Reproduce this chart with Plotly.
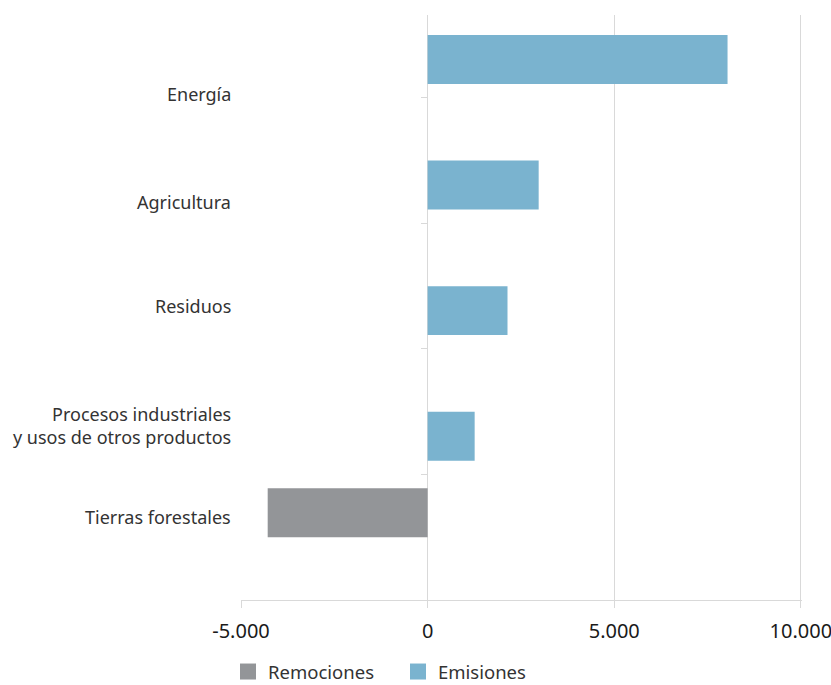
import plotly.graph_objects as go

# Emisiones y remociones por sector (Gg CO2 eq)
sectores = ["Energía", "Agricultura", "Residuos",
            "Procesos industriales<br>y usos de otros productos",
            "Tierras forestales"]
remociones = [None, None, None, None, -4285]
emisiones = [8035, 2975, 2140, 1260, 0]

# vertical placement of each sector label (category units)
label_pos = [0.47, 1.33, 2.16, 3.11, 3.84]

x_ticks = [-5000, 0, 5000, 10000]
x_ticktext = ["-5.000", "0", "5.000", "10.000"]
x_range = [-5000, 10030]

color_rem = "#939598"
color_emi = "#7ab3cf"
font = "Noto Sans"

fig = go.Figure()
fig.add_trace(go.Bar(
    y=sectores, x=remociones, orientation="h", name="Remociones",
    marker=dict(color=color_rem, line=dict(width=0)), showlegend=False,
))
fig.add_trace(go.Bar(
    y=sectores, x=emisiones, orientation="h", name="Emisiones",
    marker=dict(color=color_emi, line=dict(width=0)), showlegend=False,
))

# legend entries with large square swatches
for name, col in [("Remociones", color_rem), ("Emisiones", color_emi)]:
    fig.add_trace(go.Scatter(
        x=[None], y=[None], mode="markers", name=name,
        marker=dict(symbol="square", size=18, color=col),
    ))

for s, p in zip(sectores, label_pos):
    fig.add_annotation(
        x=0, xref="paper", y=p, yref="y", text=s, showarrow=False,
        xanchor="right", yanchor="middle", xshift=-8, align="right",
        font=dict(family=font, size=18, color="#333333"),
    )

fig.update_layout(
    width=831, height=685,
    margin=dict(l=241, r=29, t=15, b=85, autoexpand=False),
    plot_bgcolor="white", paper_bgcolor="white",
    barmode="group", bargap=0.22, bargroupgap=0,
    showlegend=True,
    legend=dict(orientation="h", x=-13 / 561, xanchor="left", xref="paper",
                y=(685 - 672) / 685, yref="container", yanchor="middle",
                font=dict(family=font, size=18.5, color="#333333"),
                itemwidth=30, entrywidth=125, traceorder="normal"),
    xaxis=dict(
        range=x_range, tickvals=x_ticks, ticktext=x_ticktext,
        showgrid=True, gridcolor="#d9d9d9", gridwidth=1,
        zeroline=True, zerolinecolor="#d9d9d9", zerolinewidth=1,
        showline=True, linecolor="#d9d9d9", linewidth=1,
        ticks="outside", ticklen=7, tickcolor="#d9d9d9",
        ticklabelstandoff=6, ticklabeloverflow="allow",
        tickfont=dict(family=font, size=20, color="#1a1a1a"),
        automargin=False, fixedrange=True,
    ),
    yaxis=dict(
        type="category", range=[4.5, -0.16],
        anchor="free", position=(0 - x_range[0]) / (x_range[1] - x_range[0]),
        showticklabels=False, showgrid=False, showline=False, zeroline=False,
        ticks="outside", tickson="boundaries", ticklen=7, tickcolor="#d9d9d9",
        automargin=False, fixedrange=True,
    ),
)

fig.write_html("out.html")
